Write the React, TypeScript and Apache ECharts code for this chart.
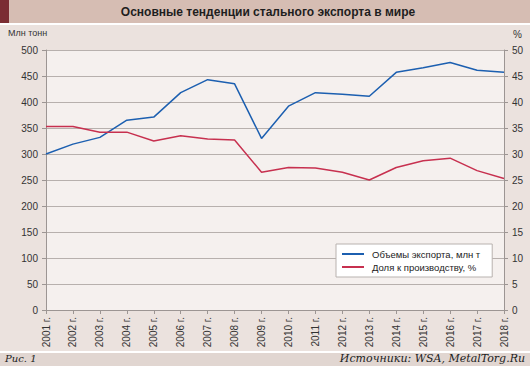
import React, { useEffect, useRef } from "react";
import * as echarts from "echarts";

const years = ["2001 г.", "2002 г.", "2003 г.", "2004 г.", "2005 г.", "2006 г.", "2007 г.", "2008 г.", "2009 г.", "2010 г.", "2011 г.", "2012 г.", "2013 г.", "2014 г.", "2015 г.", "2016 г.", "2017 г.", "2018 г."];
const exportVolume = [300, 319, 332, 365, 371, 418, 443, 435, 330, 392, 418, 415, 411, 457, 466, 476, 461, 457];
const productionShare = [35.3, 35.3, 34.2, 34.2, 32.5, 33.5, 32.9, 32.7, 26.5, 27.4, 27.3, 26.5, 25.0, 27.4, 28.7, 29.2, 26.8, 25.3];
const seriesNames = ["Объемы экспорта, млн т", "Доля к производству, %"];

const FONT = "'Liberation Sans', Arial, sans-serif";
const SERIF = "'DejaVu Serif', 'Liberation Serif', serif";

export default function App() {
  const ref = useRef<HTMLDivElement>(null);
  useEffect(() => {
    const chart = echarts.init(ref.current!, null, { renderer: "svg" });
    chart.setOption({
      animation: false,
      backgroundColor: "#ebe2de",
      textStyle: { fontFamily: FONT },
      grid: { left: 46, right: 26, top: 50, bottom: 56, show: true, backgroundColor: "#f5f0ee", borderWidth: 0 },
      graphic: [
        { type: "rect", shape: { x: 0, y: 0, width: 530, height: 23 }, style: { fill: "#d6bdb3" } },
        { type: "rect", shape: { x: 0, y: 0, width: 9, height: 23 }, style: { fill: "#7b2d33" } },
        { type: "rect", shape: { x: 0, y: 23, width: 530, height: 2 }, style: { fill: "#ffffff" } },
        { type: "text", x: 268, y: 12, style: { text: "Основные тенденции стального экспорта в мире", fill: "#1e1e1e", font: "bold 12px " + FONT, textAlign: "center", textVerticalAlign: "middle" } },
        { type: "text", x: 8, y: 33, style: { text: "Млн тонн", fill: "#333", font: "9px " + FONT, textVerticalAlign: "middle" } },
        { type: "text", x: 522, y: 34, style: { text: "%", fill: "#333", font: "10px " + FONT, textAlign: "right", textVerticalAlign: "middle" } },
        { type: "rect", shape: { x: 0, y: 351, width: 530, height: 2 }, style: { fill: "#ffffff" } },
        { type: "rect", shape: { x: 0, y: 353, width: 530, height: 13 }, style: { fill: "#e1d6d1" } },
        { type: "text", x: 5, y: 358, style: { text: "Рис. 1", fill: "#222", font: "italic 10px " + SERIF, textVerticalAlign: "middle" } },
        { type: "text", x: 525, y: 358, style: { text: "Источники: WSA, MetalTorg.Ru", fill: "#222", font: "italic 11px " + SERIF, textAlign: "right", textVerticalAlign: "middle" } },
      ],
      legend: {
        orient: "vertical",
        left: 336,
        top: 244,
        data: seriesNames,
        icon: "rect",
        itemWidth: 22,
        itemHeight: 2,
        itemGap: 3,
        backgroundColor: "#ffffff",
        borderColor: "#b8b2af",
        borderWidth: 1,
        borderRadius: 0,
        padding: [5, 12, 5, 6],
        textStyle: { fontSize: 9.5, color: "#222", fontFamily: FONT, padding: [0, 0, 0, 3] },
      },
      xAxis: {
        type: "category",
        data: years,
        boundaryGap: false,
        axisLine: { lineStyle: { color: "#9c9593" } },
        axisTick: { show: true, length: 4, lineStyle: { color: "#9c9593" } },
        axisLabel: { rotate: 90, fontSize: 10, color: "#333", margin: 7, fontFamily: FONT },
      },
      yAxis: [
        {
          type: "value",
          min: 0,
          max: 500,
          interval: 50,
          axisLine: { show: true, lineStyle: { color: "#9c9593" } },
          axisTick: { show: true, length: 4, lineStyle: { color: "#9c9593" } },
          splitLine: { show: true, lineStyle: { color: "#b7b0ad", width: 1 } },
          axisLabel: { fontSize: 10, color: "#333", margin: 8, fontFamily: FONT },
        },
        {
          type: "value",
          min: 0,
          max: 50,
          interval: 5,
          position: "right",
          axisLine: { show: true, lineStyle: { color: "#9c9593" } },
          axisTick: { show: true, length: 4, lineStyle: { color: "#9c9593" } },
          splitLine: { show: false },
          axisLabel: { fontSize: 10, color: "#333", margin: 8, fontFamily: FONT },
        },
      ],
      series: [
        {
          name: seriesNames[0],
          type: "line",
          data: exportVolume,
          yAxisIndex: 0,
          symbol: "none",
          lineStyle: { color: "#1c5fb0", width: 1.5 },
          itemStyle: { color: "#1c5fb0" },
        },
        {
          name: seriesNames[1],
          type: "line",
          data: productionShare,
          yAxisIndex: 1,
          symbol: "none",
          lineStyle: { color: "#c7304f", width: 1.5 },
          itemStyle: { color: "#c7304f" },
        },
      ],
    });
    return () => chart.dispose();
  }, []);
  return <div ref={ref} style={{ position: "absolute", left: 0, top: 0, width: 530, height: 366 }} />;
}
